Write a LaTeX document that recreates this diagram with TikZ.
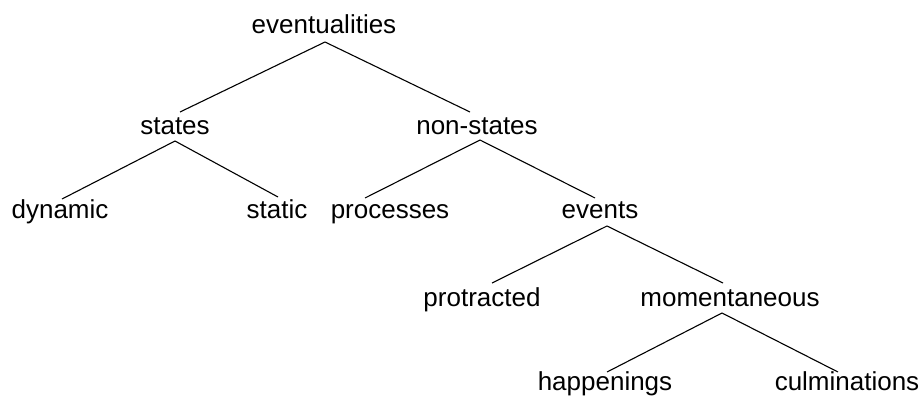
\documentclass[tikz,border=0pt]{standalone}
\usepackage{fontspec}
\setmainfont{Liberation Sans}
\usetikzlibrary{calc}
\begin{document}
\begin{tikzpicture}[x=1pt,y=-1pt,
  lbl/.style={anchor=base,inner sep=0pt,font=\fontsize{26}{30}\selectfont},
  edge/.style={line width=1.1pt,black}]
\useasboundingbox (0,0) rectangle (920,397);
\node[lbl] (ev) at (324,33) {eventualities};
\node[lbl] (st) at (175,134) {states};
\node[lbl] (ns) at (477,134) {non-states};
\node[lbl] (dy) at (60,218) {dynamic};
\node[lbl] (sc) at (277,218) {static};
\node[lbl] (pr) at (390,218) {processes};
\node[lbl] (evt) at (600,218) {events};
\node[lbl] (pt) at (482,306) {protracted};
\node[lbl] (mo) at (730,306) {momentaneous};
\node[lbl] (ha) at (605,390) {happenings};
\node[lbl] (cu) at (847,390) {culminations};
\draw[edge] ($(st.base)+(5,-22)$) -- ($(ev.base)+(1,9)$) -- ($(ns.base)+(-7,-22)$);
\draw[edge] ($(dy.base)+(2,-19)$) -- ($(st.base)+(0,7)$) -- ($(sc.base)+(1,-21)$);
\draw[edge] ($(pr.base)+(-25,-20)$) -- ($(ns.base)+(3,6)$) -- ($(evt.base)+(-5,-20)$);
\draw[edge] ($(pt.base)+(10,-23)$) -- ($(evt.base)+(7,8)$) -- ($(mo.base)+(-7,-23)$);
\draw[edge] ($(ha.base)+(2,-18)$) -- ($(mo.base)+(-8,7)$) -- ($(cu.base)+(-9,-18)$);
\end{tikzpicture}
\end{document}
